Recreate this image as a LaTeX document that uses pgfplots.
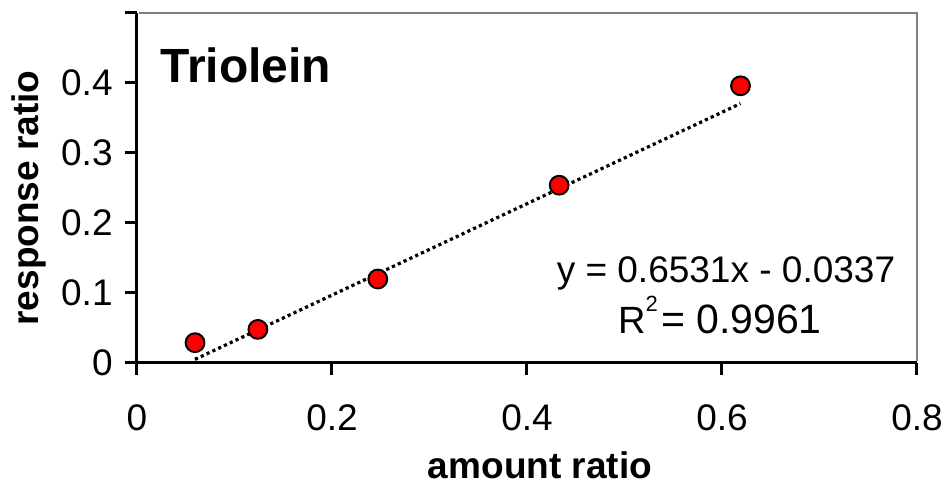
\documentclass[border=0pt]{standalone}
\usepackage{pgfplots}
\pgfplotsset{compat=1.18}
\usepackage{fontspec}
\setmainfont{Liberation Sans}
\begin{document}
\begin{tikzpicture}
\useasboundingbox (-68.5pt,-61pt) rectangle (405.5pt,181.5pt);
\begin{axis}[
  at={(0pt,0pt)}, anchor=south west,
  scale only axis, width=390pt, height=175pt,
  xmin=0, xmax=0.8, ymin=0, ymax=0.5,
  axis x line*=bottom, axis y line*=left,
  axis line style={line width=1.5pt, black},
  xtick={0,0.2,0.4,0.6,0.8},
  xticklabels={0,0.2,0.4,0.6,0.8},
  ytick={0,0.1,0.2,0.3,0.4,0.5},
  yticklabels={0,0.1,0.2,0.3,0.4,{}},
  tick align=outside, major tick length=6pt,
  tick style={line width=1.5pt, black},
  ticklabel style={font=\fontsize{18.5}{21}\selectfont},
  xticklabel style={anchor=north, inner sep=0pt, yshift=-14.5pt},
  yticklabel style={anchor=east, inner sep=0pt, xshift=-6pt},
  xlabel={amount ratio}, ylabel={response ratio},
  label style={font=\fontsize{18.5}{22}\selectfont\bfseries},
  xlabel style={at={(rel axis cs:0.5167,-0.3314)}, anchor=base, inner sep=0pt},
  ylabel style={at={(rel axis cs:-0.1269,0.4714)}, anchor=base, inner sep=0pt},
  clip=false,
]
\draw[line width=1pt, gray] (rel axis cs:0.003,1) -- (rel axis cs:1,1) -- (rel axis cs:1,0.005);
\addplot[black, line width=1.6pt, dash pattern=on 1.6pt off 1.6pt] coordinates {(0.0595,0.0052) (0.619,0.3706)};
\addplot[only marks, mark=*, mark size=4.7pt, mark options={fill=red, draw=black, line width=1pt}] coordinates {
(0.0595,0.029) (0.124,0.048) (0.247,0.120) (0.433,0.254) (0.619,0.396)};
\node[anchor=base west, inner sep=0pt, font=\fontsize{24}{28}\selectfont\bfseries] at (rel axis cs:0.0295,0.8) {Triolein};
\node[anchor=base, inner sep=0pt, font=\fontsize{18.5}{22}\selectfont] at (rel axis cs:0.7551,0.2314) {y = 0.6531x - 0.0337};
\node[anchor=base, inner sep=0pt] at (rel axis cs:0.7474,0.0857) {{\fontsize{19}{24}\selectfont R\raisebox{11pt}{\fontsize{11}{13}\selectfont 2}}\,{\fontsize{20.5}{24}\selectfont = 0.9961}};
\end{axis}
\end{tikzpicture}
\end{document}
